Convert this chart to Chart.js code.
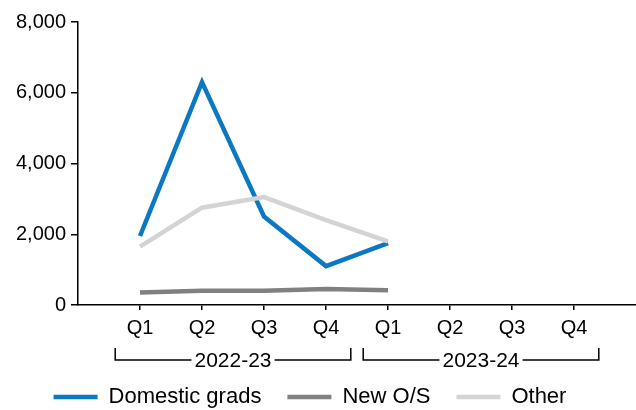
<!DOCTYPE html>
<html>
<head>
<meta charset="utf-8">
<script src="https://cdn.jsdelivr.net/npm/chart.js@4"></script>
<style>
  html, body { margin: 0; padding: 0; background: #fff; }
  #wrap { width: 636px; height: 410px; }
</style>
</head>
<body>
<div id="wrap"><canvas id="chart"></canvas></div>
<script>
// blank slots at both ends keep the line clear of the axes
const quarters = ['', 'Q1', 'Q2', 'Q3', 'Q4', 'Q1', 'Q2', 'Q3', 'Q4', ''];
const years = ['2022-23', '2023-24'];
const yearSpans = [[1, 4], [5, 8]];
const domesticGrads = [null, 1950, 6300, 2500, 1100, 1750, null, null, null, null];
const newOS = [null, 350, 400, 400, 450, 420, null, null, null, null];
const other = [null, 1650, 2750, 3050, 2400, 1800, null, null, null, null];
const yTicks = [0, 2000, 4000, 6000, 8000];

Chart.defaults.font.family = '"Liberation Sans", Arial, sans-serif';
Chart.defaults.color = '#000';

// brackets with the financial year under the quarter labels
const yearBrackets = {
    id: 'yearBrackets',
    afterDraw(chart) {
        const ctx = chart.ctx;
        const x = chart.scales.x;
        const step = x.getPixelForValue(1) - x.getPixelForValue(0);
        const yTop = x.top + 43;
        const yLine = x.top + 55;
        ctx.save();
        ctx.font = '21px "Liberation Sans", Arial, sans-serif';
        ctx.fillStyle = '#000';
        ctx.strokeStyle = '#000';
        ctx.lineWidth = 1.5;
        ctx.textAlign = 'center';
        ctx.textBaseline = 'middle';
        years.forEach((label, i) => {
            const left = x.getPixelForValue(yearSpans[i][0]) - step * 0.4;
            const right = x.getPixelForValue(yearSpans[i][1]) + step * 0.4;
            const mid = (left + right) / 2;
            const half = ctx.measureText(label).width / 2 + 3;
            ctx.beginPath();
            ctx.moveTo(left, yTop);
            ctx.lineTo(left, yLine);
            ctx.lineTo(mid - half, yLine);
            ctx.moveTo(mid + half, yLine);
            ctx.lineTo(right, yLine);
            ctx.lineTo(right, yTop);
            ctx.stroke();
            ctx.fillText(label, mid, yLine + 1);
        });
        ctx.restore();
    }
};

function line(label, data, color, order) {
    return {
        label: label,
        data: data,
        borderColor: color,
        backgroundColor: color,
        borderWidth: 4.5,
        pointRadius: 0,
        pointHoverRadius: 0,
        pointBorderWidth: 4.5,
        tension: 0,
        order: order
    };
}

new Chart(document.getElementById('chart'), {
    type: 'line',
    data: {
        labels: quarters,
        datasets: [
            line('Domestic grads', domesticGrads, '#0a78c2', 1),
            line('New O/S', newOS, '#808080', 2),
            line('Other', other, '#d4d4d4', 0)
        ]
    },
    options: {
        responsive: true,
        maintainAspectRatio: false,
        animation: false,
        // negative left/bottom pull the legend over to where the original has it
        layout: { autoPadding: false, padding: { top: 22, right: 0, bottom: -8, left: -16 } },
        plugins: {
            tooltip: { enabled: false },
            legend: {
                position: 'bottom',
                labels: {
                    usePointStyle: true,
                    pointStyle: 'line',
                    pointStyleWidth: 44,
                    padding: 26,
                    font: { size: 22 },
                    sort: (a, b) => a.datasetIndex - b.datasetIndex
                }
            }
        },
        scales: {
            x: {
                grid: {
                    drawOnChartArea: false,
                    tickLength: 5,
                    lineWidth: 1.5,
                    color: c => (c.index === 0 || c.index === quarters.length - 1) ? 'rgba(0,0,0,0)' : '#000'
                },
                border: { color: '#000', width: 1.5 },
                // padding 0 so the axis runs to the right edge; tall lineHeight pushes the labels down
                ticks: { font: { size: 20, lineHeight: 1.8 }, padding: 0, autoSkip: false, maxRotation: 0 },
                afterFit: s => { s.height = 55; }
            },
            y: {
                min: 0,
                max: 8000,
                grid: { drawOnChartArea: false, tickLength: 7, lineWidth: 1.5, color: '#000' },
                border: { color: '#000', width: 1.5 },
                ticks: {
                    font: { size: 20 },
                    padding: 5,
                    callback: v => v.toLocaleString('en-US')
                },
                afterBuildTicks: s => { s.ticks = yTicks.map(v => ({ value: v })); },
                afterFit: s => { s.width = 94; }
            }
        }
    },
    plugins: [yearBrackets]
});
</script>
</body>
</html>
